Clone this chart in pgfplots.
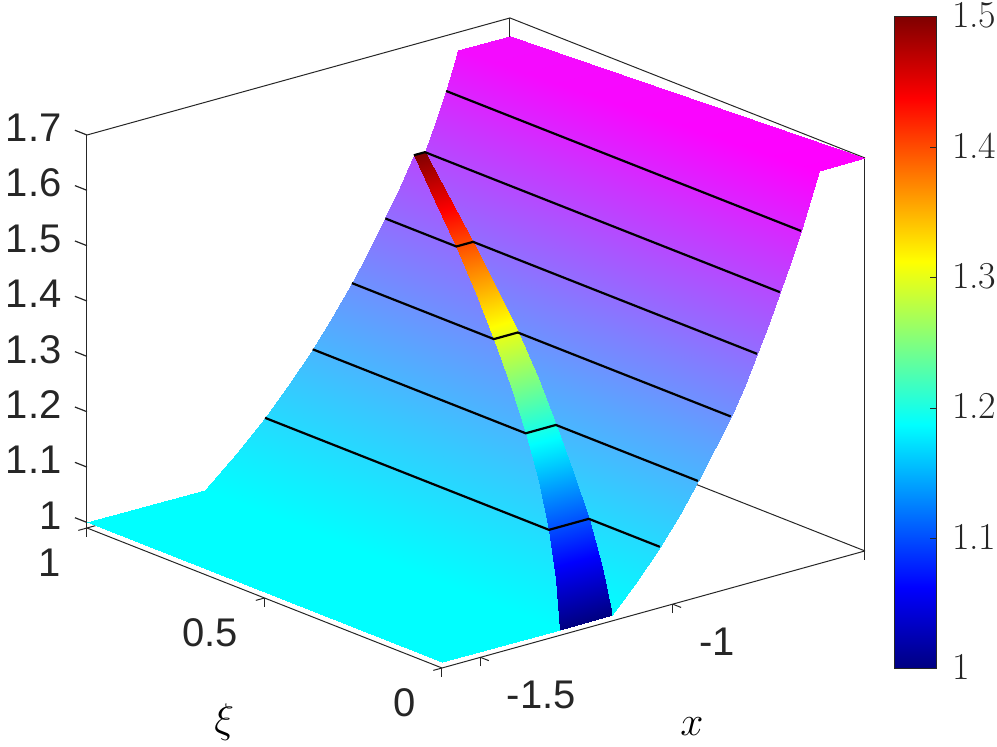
\documentclass[border=0pt]{standalone}
\usepackage{fontspec}
\newfontfamily\arialf{Liberation Sans}
\usepackage{pgfplots}
\pgfplotsset{compat=1.18}
\usetikzlibrary{calc}
\definecolor{axgray}{gray}{0.15}
\pgfplotsset{
  colormap={cyanmag}{rgb255=(0,255,255) rgb255=(255,0,255)},
}
\begin{document}
\begin{tikzpicture}
\begin{axis}[
  at={(0,0)},
  x={(192.25pt,53.2pt)}, y={(-177.5pt,70pt)}, z={(0pt,276.75pt)},
  xmin=-1.6, xmax=-0.5, ymin=0, ymax=1, zmin=0.99, zmax=1.7,
  clip=false,
  point meta min=1, point meta max=1.7,
  axis line style={axgray, line width=0.5pt},
  tick style={axgray, line width=0.5pt},
  ztick style={draw=none},
  tick align=outside, major tick length=4.5pt,
  xtick pos=left, ytick pos=left, ztick pos=left,
  xtick={-1.5,-1}, xticklabels={-1.5,-1},
  ytick={0,0.5,1}, yticklabels={0,0.5,1},
  ztick={1,1.1,1.2,1.3,1.4,1.5,1.6,1.7},
  zticklabels={1,1.1,1.2,1.3,1.4,1.5,1.6,1.7},
  tick label style={font=\arialf\fontsize{20}{20}\selectfont, text=axgray},
  xticklabel style={anchor=west, xshift=5.5pt, yshift=-17pt},
  yticklabel style={anchor=east, xshift=-5.5pt, yshift=-16pt},
  zticklabel style={xshift=-5pt, yshift=1pt},
  xlabel={$x$}, ylabel={$\xi$},
  xlabel style={at={(axis cs:-1.447,-0.538,0.99)}, anchor=center, font=\fontsize{20}{20}\selectfont},
  ylabel style={at={(axis cs:-2.142,0.0265,0.99)}, anchor=center, font=\fontsize{20}{20}\selectfont, rotate=0},
]
% z ticks sit on the left edge only
\addplot3[axgray, line width=0.6pt, no marks] coordinates {(-1.6,1,1)(-1.6,1.034,1)};
\addplot3[axgray, line width=0.6pt, no marks] coordinates {(-1.6,1,1.1)(-1.6,1.034,1.1)};
\addplot3[axgray, line width=0.6pt, no marks] coordinates {(-1.6,1,1.2)(-1.6,1.034,1.2)};
\addplot3[axgray, line width=0.6pt, no marks] coordinates {(-1.6,1,1.3)(-1.6,1.034,1.3)};
\addplot3[axgray, line width=0.6pt, no marks] coordinates {(-1.6,1,1.4)(-1.6,1.034,1.4)};
\addplot3[axgray, line width=0.6pt, no marks] coordinates {(-1.6,1,1.5)(-1.6,1.034,1.5)};
\addplot3[axgray, line width=0.6pt, no marks] coordinates {(-1.6,1,1.6)(-1.6,1.034,1.6)};
\addplot3[axgray, line width=0.6pt, no marks] coordinates {(-1.6,1,1.7)(-1.6,1.034,1.7)};
% part of the sheet behind the strip
\addplot3[surf, shader=interp, colormap name=cyanmag, mesh/cols=2,
  point meta=z] table {
x y z
-1.6 0 1
-1.6 1 1
-1.293 0 1
-1.293 1 1
-1.211 0.1 1.05
-1.211 1 1.05
-1.137 0.2 1.1
-1.137 1 1.1
-1.072 0.3 1.15
-1.072 1 1.15
-1.013 0.4 1.2
-1.013 1 1.2
-0.960 0.5 1.25
-0.960 1 1.25
-0.911 0.6 1.3
-0.911 1 1.3
-0.866 0.7 1.35
-0.866 1 1.35
-0.824 0.8 1.4
-0.824 1 1.4
-0.786 0.9 1.45
-0.786 1 1.45
-0.75 1 1.5
-0.75 1 1.5
};
% part of the sheet in front of the strip
\addplot3[surf, shader=interp, colormap name=cyanmag, mesh/cols=2,
  point meta=z] table {
x y z
-1.158 0 1
-1.158 0 1
-1.092 0 1.05
-1.092 0.1 1.05
-1.0335 0 1.1
-1.0335 0.2 1.1
-0.982 0 1.15
-0.982 0.3 1.15
-0.9345 0 1.2
-0.9345 0.4 1.2
-0.889 0 1.25
-0.889 0.5 1.25
-0.849 0 1.3
-0.849 0.6 1.3
-0.812 0 1.35
-0.812 0.7 1.35
-0.7805 0 1.4
-0.7805 0.8 1.4
-0.750 0 1.45
-0.750 0.9 1.45
-0.721 0 1.5
-0.721 1 1.5
-0.6925 0 1.55
-0.6925 1 1.55
-0.666 0 1.6
-0.666 1 1.6
-0.642 0 1.65
-0.642 1 1.65
-0.62 0 1.7
-0.635 1 1.668
-0.5 0 1.7
-0.5 1 1.668
};
% the jet strip: m puts its range 1..1.5 on the axis' colour range 1..1.7
\addplot3[surf, shader=interp, colormap/jet, mesh/cols=2,
  point meta=explicit] table[meta=m] {
x y z m
-1.293 0 1 1
-1.158 0 1 1
-1.211 0.1 1.05 1.07
-1.092 0.1 1.05 1.07
-1.137 0.2 1.1 1.14
-1.0335 0.2 1.1 1.14
-1.072 0.3 1.15 1.21
-0.982 0.3 1.15 1.21
-1.013 0.4 1.2 1.28
-0.9345 0.4 1.2 1.28
-0.960 0.5 1.25 1.35
-0.889 0.5 1.25 1.35
-0.911 0.6 1.3 1.42
-0.849 0.6 1.3 1.42
-0.866 0.7 1.35 1.49
-0.812 0.7 1.35 1.49
-0.824 0.8 1.4 1.56
-0.7805 0.8 1.4 1.56
-0.786 0.9 1.45 1.63
-0.750 0.9 1.45 1.63
-0.75 1 1.5 1.7
-0.721 1 1.5 1.7
};
% level lines
\addplot3[black, line width=1.1pt, no marks] coordinates {(-1.137,1,1.1)(-1.137,0.2,1.1)(-1.0335,0.2,1.1)(-1.0335,0,1.1)};
\addplot3[black, line width=1.1pt, no marks] coordinates {(-1.013,1,1.2)(-1.013,0.4,1.2)(-0.9345,0.4,1.2)(-0.9345,0,1.2)};
\addplot3[black, line width=1.1pt, no marks] coordinates {(-0.911,1,1.3)(-0.911,0.6,1.3)(-0.849,0.6,1.3)(-0.849,0,1.3)};
\addplot3[black, line width=1.1pt, no marks] coordinates {(-0.824,1,1.4)(-0.824,0.8,1.4)(-0.7805,0.8,1.4)(-0.7805,0,1.4)};
\addplot3[black, line width=1.1pt, no marks] coordinates {(-0.75,1,1.5)(-0.721,1,1.5)(-0.721,0,1.5)};
\addplot3[black, line width=1.1pt, no marks] coordinates {(-0.666,1,1.6)(-0.666,0,1.6)};
\coordinate (P) at (axis cs:-1.6,0,0.99);
\end{axis}
% colour bar
\begin{axis}[
  at={($(P)+(226pt,-0.5pt)$)}, anchor=south west,
  scale only axis, width=21pt, height=326pt,
  xmin=0, xmax=1, ymin=1, ymax=1.5,
  xtick=\empty, ytick={1,1.1,1.2,1.3,1.4,1.5},
  yticklabels={1,1.1,1.2,1.3,1.4,1.5},
  ytick pos=right, yticklabel pos=right,
  tick align=inside, major tick length=3pt,
  axis line style={axgray, line width=0.5pt},
  tick style={axgray, line width=0.5pt},
  axis on top,
  colormap/jet,
  yticklabel style={font=\fontsize{19}{20}\selectfont, text=axgray, inner sep=0pt, xshift=7.8pt, yshift=1pt},
]
\addplot[surf, shader=interp, mesh/cols=2, point meta=y] coordinates {
(0,1)(1,1)
(0,1.5)(1,1.5)
};
\end{axis}
\pgfresetboundingbox
\path[use as bounding box] ($(P)+(-221pt,-39.5pt)$) rectangle ++(498.5pt,373.5pt);
\end{tikzpicture}
\end{document}
